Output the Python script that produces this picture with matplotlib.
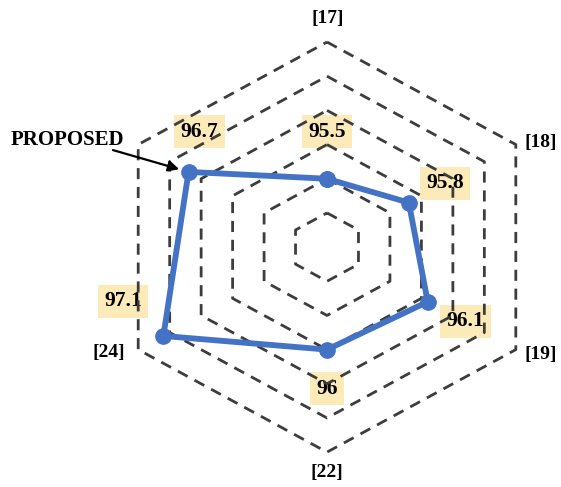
import numpy as np
import matplotlib.pyplot as plt

# accuracy of each method on the six spokes (clockwise from the top)
refs = ["[17]", "[18]", "[19]", "[22]", "[24]", ""]
accuracy = [95.5, 95.8, 96.1, 96.0, 97.1, 96.7]
value_labels = ["95.5", "95.8", "96.1", "96", "97.1", "96.7"]
rings = [95.0, 95.5, 96.0, 96.5, 97.0, 97.5]
r_min = 94.5

angles = np.deg2rad([90, 30, -30, -90, -150, 150])

# label offsets in points
ref_offsets = [(0.7, 17), (18, 1.4), (18, -3.6), (0, -15), (-21, -2), (0, 0)]
value_offsets = [(0, 34), (26, 14), (27, -14), (0, -28), (-29, 25), (8, 29)]


def to_xy(values, ang):
    r = np.asarray(values) - r_min
    return r * np.cos(ang), r * np.sin(ang)


fig = plt.figure(figsize=(5.61, 4.87), dpi=100)
ax = fig.add_axes([0, 0, 1, 1])
ax.set_xlim(-4.50, 3.22)
ax.set_ylim(-3.51, 3.615)
ax.axis("off")

font = dict(family="Liberation Serif", weight="bold")

# dashed hexagonal grid
closed = np.append(angles, angles[0])
for ring in rings:
    gx, gy = to_xy(np.full(len(closed), ring), closed)
    ax.plot(gx, gy, color="#3d3d3d", lw=2.0, linestyle=(0, (4.0, 2.8)),
            zorder=2, solid_joinstyle="miter")

# spoke labels just outside the outer ring
for ref, ang, off in zip(refs, angles, ref_offsets):
    if not ref:
        continue
    vx, vy = to_xy(rings[-1], ang)
    ax.annotate(ref, xy=(vx, vy), xytext=off, textcoords="offset points",
                ha="center", va="center", fontsize=14, **font)

# proposed method polygon
px, py = to_xy(accuracy + [accuracy[0]], closed)
ax.plot(px, py, color="#4472C4", lw=4.2, marker="o", markersize=11,
        zorder=3, solid_joinstyle="round")

for val, lab, ang, off in zip(accuracy, value_labels, angles, value_offsets):
    vx, vy = to_xy(val, ang)
    ax.annotate(lab, xy=(vx, vy), xytext=off, textcoords="offset points",
                ha="center", va="center", fontsize=15.5, zorder=1,
                bbox=dict(boxstyle="square,pad=0.3", fc="#FCEAB8", ec="none"),
                **font)

# pointer to the proposed method
tip_x, tip_y = to_xy(accuracy[5], angles[5])
ax.text(-4.36, 1.567, "PROPOSED", ha="left", va="center", fontsize=15, **font)
ax.annotate("", xy=(tip_x, tip_y), xytext=(-2.945, 1.419),
            arrowprops=dict(arrowstyle="-|>", color="black", lw=1.6,
                            shrinkA=0, shrinkB=7, mutation_scale=16))

fig.savefig("out.png", dpi=100)
